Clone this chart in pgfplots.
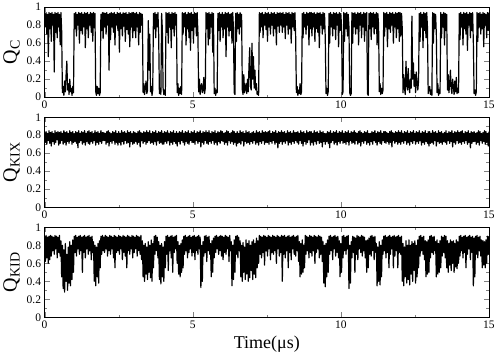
\documentclass[border=0pt]{standalone}
\usepackage{fontspec}
\setmainfont{Liberation Serif}
\usepackage{pgfplots}
\usepgfplotslibrary{groupplots}
\pgfplotsset{compat=1.18}
\pgfplotsset{trace/.style={black, line width=1.2pt, line join=round, mark=none}}

\begin{document}
\begin{tikzpicture}
\begin{groupplot}[
  group style={group size=1 by 3, vertical sep=20pt},
  scale only axis, width=444pt, height=90pt,
  xmin=0, xmax=15, ymin=0, ymax=1,
  xtick={0,5,10,15}, minor x tick num=1,
  ytick={0,0.2,0.4,0.6,0.8,1}, minor y tick num=1,
  tick align=inside, major tick length=5pt, minor tick length=2.5pt,
  /pgf/number format/assume math mode=true,
  ticklabel style={font=\fontsize{11.5}{12}\selectfont},
  ylabel style={font=\fontsize{20}{20}\selectfont},
]
% Q_C, one row = 1 microsecond, step 0.025
\nextgroupplot[ylabel={Q\textsubscript{C}}]
\addplot[trace] table[row sep=\\, header=false, x expr=\coordindex*0.025, y index=0] {
0.93\\0.78\\0.94\\0.70\\0.92\\0.45\\0.94\\0.76\\0.93\\0.62\\0.94\\0.80\\0.92\\0.28\\0.94\\0.72\\0.93\\0.66\\0.94\\0.78\\0.92\\0.58\\0.94\\0.74\\0.05\\0.12\\0.02\\0.18\\0.06\\0.25\\0.40\\0.08\\0.15\\0.03\\0.20\\0.06\\0.10\\0.02\\0.12\\0.05\\
0.93\\0.76\\0.94\\0.68\\0.92\\0.80\\0.94\\0.60\\0.93\\0.74\\0.94\\0.70\\0.92\\0.78\\0.94\\0.55\\0.93\\0.76\\0.94\\0.66\\0.92\\0.80\\0.94\\0.72\\0.93\\0.62\\0.94\\0.77\\0.93\\0.06\\0.02\\0.12\\0.04\\0.10\\0.02\\0.05\\0.92\\0.74\\0.94\\0.65\\
0.94\\0.78\\0.93\\0.70\\0.94\\0.80\\0.92\\0.30\\0.93\\0.64\\0.94\\0.78\\0.93\\0.72\\0.94\\0.58\\0.92\\0.80\\0.94\\0.74\\0.93\\0.50\\0.94\\0.76\\0.92\\0.68\\0.94\\0.79\\0.93\\0.62\\0.94\\0.75\\0.92\\0.70\\0.94\\0.56\\0.93\\0.78\\0.94\\0.66\\
0.94\\0.74\\0.93\\0.66\\0.94\\0.78\\0.92\\0.58\\0.94\\0.72\\0.93\\0.80\\0.92\\0.05\\0.15\\0.03\\0.10\\0.18\\0.04\\0.08\\0.85\\0.30\\0.70\\0.06\\0.12\\0.02\\0.08\\0.93\\0.76\\0.94\\0.66\\0.92\\0.78\\0.94\\0.70\\0.04\\0.10\\0.03\\0.93\\0.75\\
0.10\\0.03\\0.08\\0.02\\0.94\\0.72\\0.93\\0.60\\0.94\\0.78\\0.92\\0.55\\0.94\\0.76\\0.93\\0.68\\0.94\\0.80\\0.92\\0.05\\0.15\\0.02\\0.10\\0.04\\0.12\\0.03\\0.94\\0.70\\0.93\\0.78\\0.94\\0.58\\0.92\\0.76\\0.94\\0.66\\0.93\\0.52\\0.94\\0.74\\
0.92\\0.60\\0.94\\0.78\\0.93\\0.68\\0.94\\0.72\\0.06\\0.20\\0.03\\0.12\\0.15\\0.05\\0.08\\0.22\\0.04\\0.10\\0.94\\0.76\\0.93\\0.58\\0.94\\0.65\\0.92\\0.78\\0.94\\0.50\\0.93\\0.04\\0.10\\0.02\\0.08\\0.05\\0.93\\0.74\\0.94\\0.62\\0.92\\0.78\\
0.94\\0.66\\0.92\\0.76\\0.94\\0.45\\0.93\\0.78\\0.94\\0.68\\0.92\\0.74\\0.93\\0.60\\0.94\\0.77\\0.05\\0.03\\0.93\\0.62\\0.94\\0.76\\0.92\\0.70\\0.94\\0.78\\0.92\\0.08\\0.03\\0.25\\0.05\\0.10\\0.15\\0.04\\0.20\\0.06\\0.35\\0.55\\0.12\\0.08\\
0.60\\0.20\\0.45\\0.10\\0.30\\0.08\\0.15\\0.03\\0.06\\0.02\\0.94\\0.72\\0.93\\0.78\\0.94\\0.66\\0.92\\0.80\\0.94\\0.75\\0.93\\0.62\\0.94\\0.78\\0.92\\0.70\\0.94\\0.80\\0.93\\0.68\\0.94\\0.76\\0.92\\0.58\\0.94\\0.79\\0.93\\0.72\\0.94\\0.80\\
0.93\\0.72\\0.94\\0.78\\0.92\\0.65\\0.94\\0.80\\0.93\\0.70\\0.94\\0.76\\0.92\\0.60\\0.94\\0.78\\0.93\\0.74\\0.94\\0.68\\0.05\\0.12\\0.02\\0.08\\0.04\\0.15\\0.03\\0.06\\0.93\\0.66\\0.94\\0.78\\0.92\\0.70\\0.94\\0.80\\0.93\\0.58\\0.94\\0.76\\
0.94\\0.68\\0.93\\0.78\\0.94\\0.62\\0.92\\0.76\\0.94\\0.72\\0.93\\0.55\\0.94\\0.80\\0.92\\0.70\\0.94\\0.76\\0.93\\0.66\\0.04\\0.10\\0.02\\0.06\\0.93\\0.60\\0.94\\0.78\\0.92\\0.68\\0.94\\0.76\\0.93\\0.64\\0.94\\0.80\\0.92\\0.56\\0.94\\0.74\\
0.93\\0.78\\0.03\\0.06\\0.94\\0.62\\0.93\\0.76\\0.94\\0.68\\0.92\\0.78\\0.05\\0.02\\0.04\\0.94\\0.60\\0.93\\0.78\\0.94\\0.70\\0.92\\0.76\\0.94\\0.58\\0.93\\0.80\\0.94\\0.66\\0.92\\0.78\\0.94\\0.62\\0.93\\0.74\\0.94\\0.04\\0.02\\0.93\\0.76\\
0.94\\0.64\\0.93\\0.78\\0.94\\0.70\\0.92\\0.76\\0.94\\0.58\\0.93\\0.80\\0.06\\0.15\\0.03\\0.10\\0.04\\0.08\\0.94\\0.68\\0.93\\0.78\\0.94\\0.56\\0.92\\0.76\\0.94\\0.72\\0.93\\0.80\\0.94\\0.60\\0.92\\0.78\\0.94\\0.66\\0.93\\0.76\\0.94\\0.62\\
0.94\\0.68\\0.93\\0.76\\0.05\\0.25\\0.10\\0.03\\0.40\\0.15\\0.08\\0.32\\0.12\\0.05\\0.20\\0.10\\0.90\\0.20\\0.38\\0.12\\0.25\\0.05\\0.28\\0.15\\0.08\\0.18\\0.93\\0.62\\0.94\\0.78\\0.92\\0.55\\0.94\\0.74\\0.93\\0.66\\0.94\\0.78\\0.04\\0.10\\
0.12\\0.03\\0.08\\0.02\\0.94\\0.60\\0.93\\0.76\\0.92\\0.70\\0.05\\0.15\\0.02\\0.08\\0.04\\0.94\\0.66\\0.92\\0.78\\0.94\\0.58\\0.93\\0.74\\0.92\\0.08\\0.25\\0.05\\0.15\\0.30\\0.10\\0.04\\0.20\\0.12\\0.03\\0.18\\0.06\\0.22\\0.04\\0.10\\0.05\\
0.93\\0.64\\0.94\\0.78\\0.92\\0.58\\0.94\\0.76\\0.93\\0.70\\0.94\\0.52\\0.92\\0.80\\0.94\\0.66\\0.93\\0.74\\0.94\\0.60\\0.04\\0.08\\0.02\\0.06\\0.94\\0.62\\0.93\\0.78\\0.94\\0.70\\0.92\\0.76\\0.94\\0.56\\0.93\\0.80\\0.92\\0.66\\0.94\\0.74\\
0.94\\
};
% Q_KIX
\nextgroupplot[ylabel={Q\textsubscript{KIX}}]
\addplot[trace] table[row sep=\\, header=false, x expr=\coordindex*0.025, y index=0] {
0.83\\0.72\\0.84\\0.70\\0.82\\0.74\\0.85\\0.71\\0.83\\0.68\\0.84\\0.73\\0.82\\0.70\\0.85\\0.72\\0.83\\0.75\\0.84\\0.69\\0.83\\0.71\\0.84\\0.74\\0.82\\0.70\\0.85\\0.72\\0.83\\0.69\\0.84\\0.73\\0.82\\0.71\\0.85\\0.74\\0.83\\0.70\\0.84\\0.72\\
0.82\\0.73\\0.84\\0.71\\0.83\\0.66\\0.85\\0.72\\0.82\\0.74\\0.84\\0.70\\0.83\\0.72\\0.85\\0.69\\0.82\\0.73\\0.84\\0.71\\0.85\\0.70\\0.83\\0.73\\0.84\\0.71\\0.82\\0.74\\0.85\\0.69\\0.83\\0.72\\0.84\\0.70\\0.82\\0.73\\0.85\\0.71\\0.83\\0.74\\
0.83\\0.74\\0.82\\0.70\\0.84\\0.72\\0.85\\0.68\\0.83\\0.73\\0.82\\0.71\\0.84\\0.74\\0.83\\0.70\\0.85\\0.72\\0.82\\0.69\\0.84\\0.72\\0.82\\0.69\\0.85\\0.73\\0.83\\0.70\\0.84\\0.74\\0.82\\0.71\\0.85\\0.72\\0.83\\0.67\\0.84\\0.73\\0.82\\0.70\\
0.84\\0.71\\0.83\\0.73\\0.82\\0.70\\0.84\\0.72\\0.85\\0.67\\0.83\\0.74\\0.82\\0.71\\0.84\\0.73\\0.83\\0.70\\0.85\\0.72\\0.83\\0.74\\0.85\\0.71\\0.82\\0.72\\0.84\\0.70\\0.83\\0.73\\0.85\\0.69\\0.82\\0.74\\0.84\\0.71\\0.83\\0.72\\0.85\\0.70\\
0.82\\0.70\\0.84\\0.73\\0.83\\0.71\\0.85\\0.74\\0.82\\0.69\\0.84\\0.72\\0.83\\0.70\\0.85\\0.73\\0.82\\0.71\\0.84\\0.68\\0.82\\0.73\\0.84\\0.70\\0.83\\0.74\\0.85\\0.72\\0.82\\0.69\\0.84\\0.73\\0.83\\0.71\\0.85\\0.70\\0.82\\0.74\\0.84\\0.72\\
0.83\\0.72\\0.85\\0.70\\0.82\\0.74\\0.84\\0.71\\0.83\\0.73\\0.85\\0.67\\0.82\\0.72\\0.84\\0.70\\0.83\\0.74\\0.85\\0.71\\0.83\\0.70\\0.85\\0.73\\0.82\\0.71\\0.84\\0.74\\0.83\\0.70\\0.85\\0.72\\0.82\\0.69\\0.84\\0.73\\0.83\\0.71\\0.85\\0.74\\
0.84\\0.73\\0.82\\0.70\\0.83\\0.72\\0.85\\0.69\\0.84\\0.74\\0.82\\0.71\\0.83\\0.73\\0.85\\0.70\\0.84\\0.72\\0.82\\0.68\\0.84\\0.71\\0.82\\0.72\\0.85\\0.70\\0.83\\0.74\\0.84\\0.68\\0.82\\0.73\\0.85\\0.71\\0.83\\0.72\\0.84\\0.70\\0.82\\0.73\\
0.83\\0.71\\0.84\\0.74\\0.82\\0.70\\0.85\\0.72\\0.83\\0.69\\0.84\\0.73\\0.82\\0.71\\0.85\\0.74\\0.83\\0.70\\0.84\\0.72\\0.83\\0.72\\0.84\\0.70\\0.85\\0.73\\0.82\\0.71\\0.84\\0.74\\0.83\\0.70\\0.85\\0.72\\0.82\\0.66\\0.84\\0.71\\0.83\\0.73\\
0.85\\0.70\\0.83\\0.73\\0.84\\0.71\\0.82\\0.74\\0.85\\0.69\\0.83\\0.72\\0.84\\0.70\\0.82\\0.73\\0.85\\0.71\\0.83\\0.74\\0.83\\0.72\\0.84\\0.70\\0.82\\0.74\\0.85\\0.71\\0.83\\0.68\\0.84\\0.73\\0.82\\0.70\\0.85\\0.72\\0.83\\0.75\\0.84\\0.69\\
0.84\\0.72\\0.82\\0.69\\0.85\\0.73\\0.83\\0.70\\0.84\\0.74\\0.82\\0.71\\0.85\\0.72\\0.83\\0.67\\0.84\\0.73\\0.82\\0.70\\0.82\\0.73\\0.84\\0.71\\0.83\\0.66\\0.85\\0.72\\0.82\\0.74\\0.84\\0.70\\0.83\\0.72\\0.85\\0.69\\0.82\\0.73\\0.84\\0.71\\
0.83\\0.74\\0.85\\0.71\\0.82\\0.72\\0.84\\0.70\\0.83\\0.73\\0.85\\0.69\\0.82\\0.74\\0.84\\0.71\\0.83\\0.72\\0.85\\0.70\\0.83\\0.74\\0.82\\0.70\\0.84\\0.72\\0.85\\0.68\\0.83\\0.73\\0.82\\0.71\\0.84\\0.74\\0.83\\0.70\\0.85\\0.72\\0.82\\0.69\\
0.82\\0.73\\0.84\\0.70\\0.83\\0.74\\0.85\\0.72\\0.82\\0.69\\0.84\\0.73\\0.83\\0.71\\0.85\\0.70\\0.82\\0.74\\0.84\\0.72\\0.84\\0.71\\0.83\\0.73\\0.82\\0.70\\0.84\\0.72\\0.85\\0.67\\0.83\\0.74\\0.82\\0.71\\0.84\\0.73\\0.83\\0.70\\0.85\\0.72\\
0.83\\0.70\\0.85\\0.73\\0.82\\0.71\\0.84\\0.74\\0.83\\0.70\\0.85\\0.72\\0.82\\0.69\\0.84\\0.73\\0.83\\0.71\\0.85\\0.74\\0.82\\0.70\\0.84\\0.73\\0.83\\0.71\\0.85\\0.74\\0.82\\0.69\\0.84\\0.72\\0.83\\0.70\\0.85\\0.73\\0.82\\0.71\\0.84\\0.68\\
0.84\\0.71\\0.82\\0.72\\0.85\\0.70\\0.83\\0.74\\0.84\\0.68\\0.82\\0.73\\0.85\\0.71\\0.83\\0.72\\0.84\\0.70\\0.82\\0.73\\0.83\\0.72\\0.85\\0.70\\0.82\\0.74\\0.84\\0.71\\0.83\\0.73\\0.85\\0.67\\0.82\\0.72\\0.84\\0.70\\0.83\\0.74\\0.85\\0.71\\
0.83\\0.72\\0.84\\0.70\\0.85\\0.73\\0.82\\0.71\\0.84\\0.74\\0.83\\0.70\\0.85\\0.72\\0.82\\0.66\\0.84\\0.71\\0.83\\0.73\\0.84\\0.73\\0.82\\0.70\\0.83\\0.72\\0.85\\0.69\\0.84\\0.74\\0.82\\0.71\\0.83\\0.73\\0.85\\0.70\\0.84\\0.72\\0.82\\0.68\\
0.84\\
};
% Q_KID
\nextgroupplot[ylabel={Q\textsubscript{KID}}, xlabel={Time(μs)},
  xlabel style={font=\fontsize{18}{18}\selectfont}]
\addplot[trace] table[row sep=\\, header=false, x expr=\coordindex*0.025, y index=0] {
0.90\\0.62\\0.91\\0.66\\0.89\\0.60\\0.90\\0.64\\0.91\\0.68\\0.90\\0.74\\0.89\\0.70\\0.91\\0.76\\0.90\\0.66\\0.89\\0.72\\0.91\\0.68\\0.85\\0.45\\0.80\\0.32\\0.75\\0.28\\0.82\\0.40\\0.70\\0.30\\0.78\\0.38\\0.84\\0.35\\0.80\\0.42\\0.86\\0.50\\
0.90\\0.72\\0.91\\0.68\\0.89\\0.76\\0.90\\0.70\\0.91\\0.74\\0.89\\0.50\\0.90\\0.72\\0.91\\0.66\\0.89\\0.76\\0.90\\0.70\\0.91\\0.74\\0.89\\0.64\\0.90\\0.72\\0.84\\0.40\\0.80\\0.35\\0.78\\0.45\\0.82\\0.38\\0.85\\0.55\\0.90\\0.70\\0.91\\0.74\\
0.89\\0.72\\0.91\\0.76\\0.90\\0.68\\0.89\\0.74\\0.91\\0.70\\0.90\\0.76\\0.89\\0.66\\0.91\\0.55\\0.90\\0.72\\0.89\\0.74\\0.91\\0.70\\0.90\\0.76\\0.89\\0.64\\0.91\\0.72\\0.90\\0.68\\0.89\\0.55\\0.91\\0.74\\0.90\\0.70\\0.89\\0.76\\0.91\\0.66\\
0.90\\0.72\\0.89\\0.76\\0.91\\0.68\\0.90\\0.74\\0.89\\0.70\\0.91\\0.64\\0.85\\0.45\\0.80\\0.40\\0.82\\0.48\\0.78\\0.42\\0.84\\0.50\\0.80\\0.44\\0.86\\0.40\\0.82\\0.55\\0.90\\0.70\\0.91\\0.74\\0.89\\0.66\\0.84\\0.42\\0.80\\0.37\\0.82\\0.45\\
0.78\\0.40\\0.84\\0.55\\0.90\\0.70\\0.91\\0.52\\0.89\\0.74\\0.90\\0.66\\0.91\\0.50\\0.89\\0.72\\0.90\\0.76\\0.91\\0.60\\0.84\\0.48\\0.80\\0.45\\0.82\\0.50\\0.86\\0.55\\0.90\\0.70\\0.91\\0.74\\0.89\\0.66\\0.90\\0.72\\0.91\\0.76\\0.89\\0.68\\
0.90\\0.72\\0.91\\0.64\\0.89\\0.74\\0.90\\0.70\\0.91\\0.76\\0.89\\0.33\\0.80\\0.40\\0.84\\0.68\\0.90\\0.72\\0.91\\0.62\\0.89\\0.74\\0.90\\0.70\\0.82\\0.45\\0.85\\0.50\\0.88\\0.66\\0.90\\0.72\\0.91\\0.76\\0.89\\0.70\\0.90\\0.74\\0.91\\0.68\\
0.90\\0.64\\0.89\\0.72\\0.91\\0.70\\0.90\\0.76\\0.89\\0.62\\0.91\\0.74\\0.84\\0.35\\0.80\\0.42\\0.86\\0.50\\0.90\\0.70\\0.91\\0.66\\0.89\\0.74\\0.85\\0.45\\0.80\\0.40\\0.83\\0.50\\0.78\\0.42\\0.86\\0.48\\0.82\\0.40\\0.85\\0.44\\0.80\\0.52\\
0.84\\0.42\\0.86\\0.48\\0.82\\0.44\\0.88\\0.55\\0.85\\0.60\\0.91\\0.70\\0.90\\0.66\\0.89\\0.72\\0.91\\0.58\\0.90\\0.74\\0.89\\0.68\\0.91\\0.76\\0.90\\0.64\\0.89\\0.72\\0.91\\0.70\\0.90\\0.74\\0.89\\0.60\\0.91\\0.76\\0.90\\0.68\\0.89\\0.72\\
0.91\\0.40\\0.90\\0.70\\0.91\\0.66\\0.89\\0.74\\0.90\\0.55\\0.91\\0.72\\0.89\\0.64\\0.90\\0.76\\0.91\\0.70\\0.89\\0.68\\0.90\\0.74\\0.91\\0.62\\0.84\\0.45\\0.82\\0.48\\0.86\\0.50\\0.80\\0.55\\0.91\\0.70\\0.90\\0.74\\0.89\\0.66\\0.91\\0.72\\
0.90\\0.68\\0.89\\0.74\\0.91\\0.60\\0.90\\0.72\\0.89\\0.76\\0.91\\0.66\\0.90\\0.70\\0.89\\0.62\\0.84\\0.38\\0.80\\0.34\\0.82\\0.45\\0.86\\0.50\\0.90\\0.70\\0.91\\0.74\\0.89\\0.64\\0.90\\0.76\\0.91\\0.68\\0.89\\0.72\\0.90\\0.66\\0.85\\0.45\\
0.82\\0.50\\0.90\\0.66\\0.91\\0.74\\0.89\\0.70\\0.90\\0.76\\0.91\\0.32\\0.80\\0.38\\0.84\\0.66\\0.90\\0.72\\0.89\\0.50\\0.88\\0.70\\0.91\\0.64\\0.90\\0.76\\0.89\\0.72\\0.91\\0.68\\0.90\\0.74\\0.89\\0.66\\0.85\\0.50\\0.86\\0.55\\0.88\\0.70\\
0.90\\0.68\\0.91\\0.74\\0.89\\0.64\\0.90\\0.72\\0.82\\0.35\\0.78\\0.40\\0.84\\0.36\\0.80\\0.45\\0.86\\0.70\\0.90\\0.74\\0.91\\0.66\\0.89\\0.72\\0.90\\0.55\\0.91\\0.70\\0.89\\0.76\\0.90\\0.55\\0.91\\0.68\\0.89\\0.74\\0.90\\0.55\\0.91\\0.72\\
0.89\\0.70\\0.90\\0.40\\0.82\\0.35\\0.78\\0.45\\0.85\\0.38\\0.80\\0.42\\0.86\\0.36\\0.80\\0.48\\0.84\\0.40\\0.82\\0.52\\0.85\\0.38\\0.80\\0.45\\0.86\\0.55\\0.90\\0.68\\0.91\\0.74\\0.89\\0.70\\0.90\\0.64\\0.85\\0.45\\0.84\\0.48\\0.86\\0.50\\
0.90\\0.66\\0.91\\0.72\\0.89\\0.70\\0.90\\0.74\\0.84\\0.45\\0.86\\0.48\\0.82\\0.50\\0.85\\0.55\\0.90\\0.68\\0.89\\0.72\\0.91\\0.66\\0.90\\0.55\\0.85\\0.50\\0.82\\0.58\\0.86\\0.52\\0.84\\0.60\\0.85\\0.50\\0.82\\0.56\\0.86\\0.54\\0.84\\0.60\\
0.90\\0.68\\0.91\\0.74\\0.89\\0.66\\0.90\\0.72\\0.91\\0.55\\0.89\\0.70\\0.90\\0.76\\0.91\\0.64\\0.89\\0.72\\0.90\\0.35\\0.88\\0.45\\0.90\\0.70\\0.91\\0.66\\0.89\\0.74\\0.90\\0.68\\0.86\\0.55\\0.85\\0.58\\0.84\\0.55\\0.86\\0.60\\0.90\\0.70\\
0.90\\
};
\end{groupplot}
\end{tikzpicture}
\end{document}
